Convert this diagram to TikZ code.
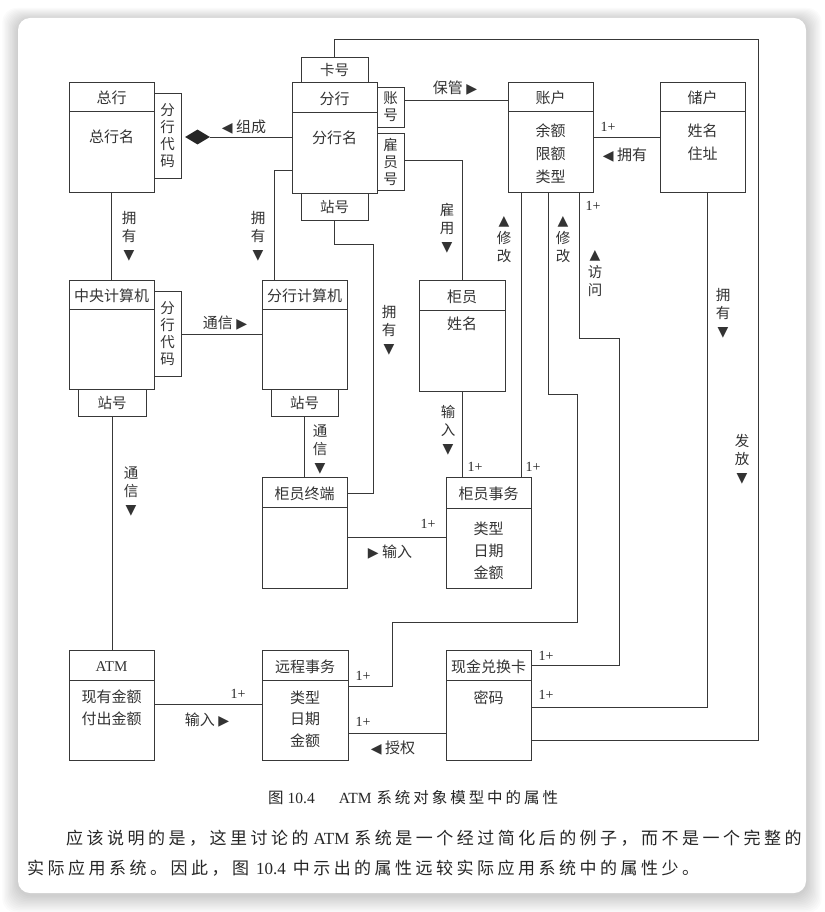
\documentclass[tikz,border=0pt]{standalone}
\usepackage{fontspec}
\usetikzlibrary{shapes.geometric}
\setmainfont{Liberation Serif}
\newfontfamily\cjk{Noto Sans CJK SC}
\newfontfamily\cjkcap[LetterSpace=19]{Noto Sans CJK SC}
\newfontfamily\cjkpar[LetterSpace=20.5]{Noto Sans CJK SC}
\newfontfamily\symf{DejaVu Sans}
\newcommand\mytri[1]{{\symf\fontsize{14}{14}\selectfont #1}}
\tikzset{
  ln/.style={draw=black!78, line width=0.9pt},
  clsbox/.style={ln, rectangle, inner sep=0pt, outer sep=0pt},
  txt/.style={text=black!80, inner sep=0pt, align=center, font=\cjk\fontsize{15}{22}\selectfont},
  tabbox/.style={clsbox, text=black!80, align=center, font=\cjk\fontsize{14.5}{17}\selectfont},
  vlab/.style={text=black!80, inner sep=0pt, align=center, font=\cjk\fontsize{14.5}{18}\selectfont},
  mult/.style={text=black!85, inner sep=0pt, font=\fontsize{14}{14}\selectfont},
}
\newcommand\umlcls[7]{%
  \node[clsbox, minimum width={(#4)-(#2)}, minimum height={(#5)-(#3)}] (#1) at ({((#2)+(#4))/2},{((#3)+(#5))/2}) {};
  \draw[ln] (#1.west |- 0,#6) -- (#1.east |- 0,#6);
  \node[txt] (#1-t) at ({((#2)+(#4))/2},{((#3)+(#6))/2+1.5}) {#7};
}
\begin{document}
\begin{tikzpicture}[x=1pt,y=-1pt]
\useasboundingbox (0,0) rectangle (824,912);
\fill[white] (0,0) rectangle (824,912);
% card shadow
\foreach \i in {1,...,12}{
  \fill[black, opacity=0.014, rounded corners=14pt] ({18-\i*1.3},{18-\i*1.0+2}) rectangle ({806+\i*1.3},{893+\i*1.5+2});
}
\fill[white, rounded corners=12pt] (18,18) rectangle (806,893);

% ---------- classes ----------
\umlcls{zh}{69}{82}{154}{192}{111}{总行}
\node[txt] (zh-a) at (111.5,137) {总行名};
\node[tabbox, minimum width=27pt, minimum height=85pt] (zh-tab) at (167.5,135.5) {分\\行\\代\\码};

\umlcls{fh}{292}{82}{377}{193}{112}{分行}
\node[txt] (fh-a) at (334.5,138) {分行名};
\node[tabbox, minimum width=67pt, minimum height=25pt] (fh-card) at (334.5,69.5) {卡号};
\node[tabbox, minimum width=67pt, minimum height=27pt] (fh-stn) at (334.5,206.5) {站号};
\node[tabbox, minimum width=27pt, minimum height=40pt] (fh-acc) at (390.5,107) {账\\号};
\node[tabbox, minimum width=27pt, minimum height=57pt] (fh-emp) at (390.5,161.5) {雇\\员\\号};

\umlcls{acct}{508}{82}{593}{192}{111}{账户}
\node[txt, font=\cjk\fontsize{15}{23}\selectfont] (acct-a) at (550.5,154) {余额\\限额\\类型};
\umlcls{dep}{660}{82}{745}{192}{111}{储户}
\node[txt, font=\cjk\fontsize{15}{23}\selectfont] (dep-a) at (702.5,142.5) {姓名\\住址};

\umlcls{cc}{69}{280}{154}{389}{309}{中央计算机}
\node[tabbox, minimum width=27pt, minimum height=85pt] (cc-tab) at (167.5,333.5) {分\\行\\代\\码};
\node[tabbox, minimum width=68pt, minimum height=27pt] (cc-stn) at (112,402.5) {站号};

\umlcls{bc}{262}{280}{347}{389}{309}{分行计算机}
\node[tabbox, minimum width=67pt, minimum height=27pt] (bc-stn) at (304.5,402.5) {站号};

\umlcls{tel}{419}{280}{505}{391}{310}{柜员}
\node[txt] (tel-a) at (462,324) {姓名};

\umlcls{term}{262}{477}{347}{588}{507}{柜员终端}
\umlcls{ttx}{446}{477}{531}{588}{508}{柜员事务}
\node[txt] (ttx-a) at (488.5,551) {类型\\日期\\金额};

\umlcls{atm}{69}{650}{154}{760}{680}{\rmfamily\fontsize{15}{15}\selectfont ATM}
\node[txt, font=\cjk\fontsize{15}{21.5}\selectfont] (atm-a) at (111.5,708) {现有金额\\付出金额};
\umlcls{rtx}{262}{650}{348}{760}{680}{远程事务}
\node[txt, font=\cjk\fontsize{15}{21.5}\selectfont] (rtx-a) at (305,719) {类型\\日期\\金额};
\umlcls{card}{446}{650}{531}{760}{680}{现金兑换卡}
\node[txt] (card-a) at (488.5,698) {密码};

% ---------- connectors ----------
% 组成
\node[diamond, fill=black!85, inner sep=0pt, minimum width=25pt, minimum height=15pt, aspect=1.67] (dia) at (197.5,137) {};
\draw[ln] (dia.east) -- (fh.west |- dia.east);
\node[txt] (l-zc) at (244,127) {\mytri{◀} 组成};

% 保管
\draw[ln] (fh-acc.east |- 0,100) -- (acct.west |- 0,100);
\node[txt] (l-bg) at (455,88) {保管 \mytri{▶}};

% 储户 拥有 账户
\draw[ln] (acct.east) -- (dep.west);
\node[mult] (m1) at (608,127) {1+};
\node[txt] (l-yy3) at (625,155) {\mytri{◀} 拥有};

% 雇用
\draw[ln] (fh-emp.east |- 0,160) -| (tel.north);
\node[vlab] (l-gy) at (447,228) {雇\\用\\\mytri{▼}};

% 总行 拥有 中央计算机
\draw[ln] (zh.south) -- (cc.north);
\node[vlab] (l-yy1) at (129,236) {拥\\有\\\mytri{▼}};

% 分行 拥有 分行计算机
\coordinate (bcin) at ([xshift=12pt]bc.north west);
\draw[ln] (fh.west |- 0,170) -| (bcin);
\node[vlab] (l-yy2) at (258,236) {拥\\有\\\mytri{▼}};

% 中央计算机 通信 分行计算机
\draw[ln] (cc-tab.east |- 0,334) -- (bc.west |- 0,334);
\node[txt] (l-tx1) at (225,323) {通信 \mytri{▶}};

% 分行 拥有 柜员终端
\coordinate (b1) at (373,244);
\draw[ln] (fh-stn.south) |- (b1) |- (term.east |- 0,493);
\node[vlab] (l-yy4) at (389,330) {拥\\有\\\mytri{▼}};

% 分行计算机 通信 柜员终端
\draw[ln] (bc-stn.south) -- (term.north -| bc-stn.south);
\node[vlab] (l-tx2) at (320,450) {通\\信\\\mytri{▼}};

% 中央计算机 通信 ATM
\draw[ln] (cc-stn.south) -- (atm.north -| cc-stn.south);
\node[vlab] (l-tx3) at (131,492) {通\\信\\\mytri{▼}};

% 柜员 输入 柜员事务
\draw[ln] (tel.south) -- (ttx.north -| tel.south);
\node[vlab] (l-sr1) at (448,430) {输\\入\\\mytri{▼}};
\node[mult] (m2) at (475,467) {1+};

% 账户 修改 柜员事务
\coordinate (a1) at ([xshift=13pt]acct.south west);
\draw[ln] (a1) -- (a1 |- ttx.north);
\node[mult] (m3) at (533,467) {1+};
\node[vlab] (l-xg1) at (504,240) {\mytri{▲}\\修\\改};

% 账户 修改 远程事务
\coordinate (a2) at ([xshift=40pt]acct.south west);
\coordinate (b2) at (577,394);
\coordinate (b3) at (392,622);
\draw[ln] (a2) |- (b2) |- (b3) |- (rtx.east |- 0,686);
\node[vlab] (l-xg2) at (563,240) {\mytri{▲}\\修\\改};
\node[mult] (m4) at (363,676) {1+};

% 账户 访问 现金兑换卡
\coordinate (a3) at ([xshift=71pt]acct.south west);
\coordinate (b4) at (619,338);
\draw[ln] (a3) |- (b4) |- (card.east |- 0,665);
\node[mult] (m5) at (593,206) {1+};
\node[mult] (m6) at (546,656) {1+};
\node[vlab] (l-fw) at (595,274) {\mytri{▲}\\访\\问};

% 储户 拥有 现金兑换卡
\coordinate (d1) at ([xshift=47pt]dep.south west);
\draw[ln] (d1) |- (card.east |- 0,707);
\node[mult] (m7) at (546,695) {1+};
\node[vlab] (l-yy5) at (723,313) {拥\\有\\\mytri{▼}};

% 分行 发放 现金兑换卡
\coordinate (b5) at (758,39);
\draw[ln] (fh-card.north) |- (b5) |- (card.east |- 0,740);
\node[vlab] (l-ff) at (742,459) {发\\放\\\mytri{▼}};

% 柜员终端 输入 柜员事务
\draw[ln] (term.east |- 0,537) -- (ttx.west |- 0,537);
\node[mult] (m8) at (428,524) {1+};
\node[txt] (l-sr2) at (390,552) {\mytri{▶} 输入};

% 现金兑换卡 授权 远程事务
\draw[ln] (card.west |- 0,733) -- (rtx.east |- 0,733);
\node[mult] (m9) at (363,722) {1+};
\node[txt] (l-sq) at (393,748) {\mytri{◀} 授权};

% ATM 输入 远程事务
\draw[ln] (atm.east |- 0,704) -- (rtx.west |- 0,704);
\node[mult] (m10) at (238,694) {1+};
\node[txt] (l-sr3) at (207,720) {输入 \mytri{▶}};

% ---------- caption and text ----------
\node[text=black!85, inner sep=0pt, anchor=west, font=\fontsize{15.5}{15.5}\selectfont] (cap) at (268,798)
  {{\cjkcap 图}\hspace{4pt}10.4\hspace{24pt}ATM\hspace{5pt}{\cjkcap 系统对象模型中的属性}};
\node[text=black!85, inner sep=0pt, anchor=west, font=\fontsize{17}{17}\selectfont] (p1) at (66,838)
  {{\cjkpar 应该说明的是，这里讨论的}\hspace{5pt}ATM\hspace{5pt}{\cjkpar 系统是一个经过简化后的例子，而不是一个完整的}};
\node[text=black!85, inner sep=0pt, anchor=west, font=\fontsize{17}{17}\selectfont] (p2) at (27,868)
  {{\cjkpar 实际应用系统。因此，图}\hspace{7pt}10.4\hspace{7pt}{\cjkpar 中示出的属性远较实际应用系统中的属性少。}};
\end{tikzpicture}
\end{document}
